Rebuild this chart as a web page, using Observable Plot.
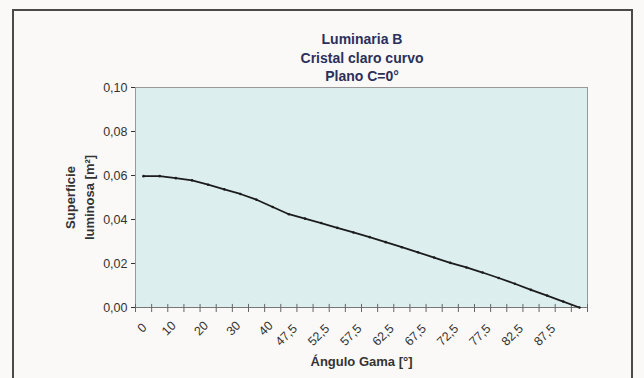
<!DOCTYPE html>
<html><head><meta charset="utf-8">
<script src="https://cdn.jsdelivr.net/npm/d3@7"></script>
<script src="https://cdn.jsdelivr.net/npm/@observablehq/plot@0.6"></script>
<style>
body{margin:0;background:#fbf9f7;}
#wrap{position:relative;width:644px;height:378px;overflow:hidden;font-family:"Liberation Sans",Arial,sans-serif;}
#box{position:absolute;left:12px;top:9px;width:617px;height:420px;border:2px solid #4a4a4a;}
#title{position:relative;padding-top:30px;padding-left:80px;height:55px;line-height:18.5px;text-align:center;font-weight:bold;font-size:14px;color:#2c2f5c;}
#chart{position:relative;}
</style></head>
<body><div id="wrap"><div id="box"></div><div id="title"></div><div id="chart"></div></div>
<script>
const titleLines = ["Luminaria B", "Cristal claro curvo", "Plano C=0°"];
const categories = [0, 5, 10, 15, 20, 25, 30, 35, 40, 45, 47.5, 50, 52.5, 55, 57.5, 60, 62.5, 65, 67.5, 70, 72.5, 75, 77.5, 80, 82.5, 85, 87.5, 90];
const values = [0.0597, 0.0597, 0.0588, 0.0578, 0.0558, 0.0537, 0.0516, 0.0490, 0.0457, 0.0424, 0.0404, 0.0384, 0.0362, 0.0341, 0.0320, 0.0297, 0.0274, 0.0251, 0.0227, 0.0203, 0.0182, 0.0159, 0.0134, 0.0108, 0.0080, 0.0054, 0.0027, 0.0000];
const tickLabels = ["0", "10", "20", "30", "40", "47,5", "52,5", "57,5", "62,5", "67,5", "72,5", "77,5", "82,5", "87,5"];
const yTicks = [0, 0.02, 0.04, 0.06, 0.08, 0.10];
const xTitle = "Ángulo Gama [°]";
const yTitle = "Superficie\nluminosa [m²]";

document.getElementById("title").innerHTML = titleLines.join("<br>");

const fmtCat = c => String(c).replace(".", ",");
const data = categories.map((c, i) => ({pos: i + 0.5, label: fmtCat(c), v: values[i]}));
const labeled = data.filter(d => tickLabels.includes(d.label));
const bounds = d3.range(categories.length + 1);

// rotated category labels, offset by label length (as the spreadsheet lays them out)
const labelMark = (len, dx, dy) => Plot.text(labeled.filter(d => d.label.length === len),
  {x: "pos", y: 0, text: "label", rotate: -45, textAnchor: "end", dx, dy, fontSize: 12.5, fill: "#333"});

const font = '"Liberation Sans", Arial, sans-serif';
const chart = Plot.plot({
  width: 644,
  height: 293,
  marginTop: 2,
  marginBottom: 71,
  marginLeft: 135,
  marginRight: 57,
  style: {fontFamily: font, fontSize: "12.5px", color: "#333", background: "transparent", overflow: "visible"},
  x: {domain: [0, categories.length], axis: null},
  y: {domain: [0, 0.1], ticks: yTicks, tickFormat: d => d3.format(".2f")(d).replace(".", ","), tickSize: 4, tickPadding: 4, label: null},
  marks: [
    Plot.frame({fill: "#dcefee", stroke: "#999", strokeWidth: 1}),
    Plot.ruleY([0], {stroke: "#777"}),
    Plot.ruleX(bounds, {x: d => d, y1: -0.0023, y2: 0.0014, stroke: "#666"}),
    Plot.line(data, {x: "pos", y: "v", stroke: "#1c1c1c", strokeWidth: 1.8}),
    Plot.dot(data, {x: "pos", y: "v", r: 1.3, fill: "#1c1c1c"}),
    labelMark(1, 1, 18),
    labelMark(2, -2, 16),
    labelMark(4, -10, 19),
    Plot.text([xTitle], {frameAnchor: "bottom", lineAnchor: "middle", textAnchor: "middle", dy: 54, fontWeight: "bold", fontSize: 13, fill: "#333"}),
    Plot.text([yTitle], {frameAnchor: "left", textAnchor: "middle", lineAnchor: "middle", rotate: -90, dx: -57, lineHeight: 1.5, fontWeight: "bold", fontSize: 13, fill: "#333"})
  ]
});
document.getElementById("chart").appendChild(chart);
</script>
</body></html>
